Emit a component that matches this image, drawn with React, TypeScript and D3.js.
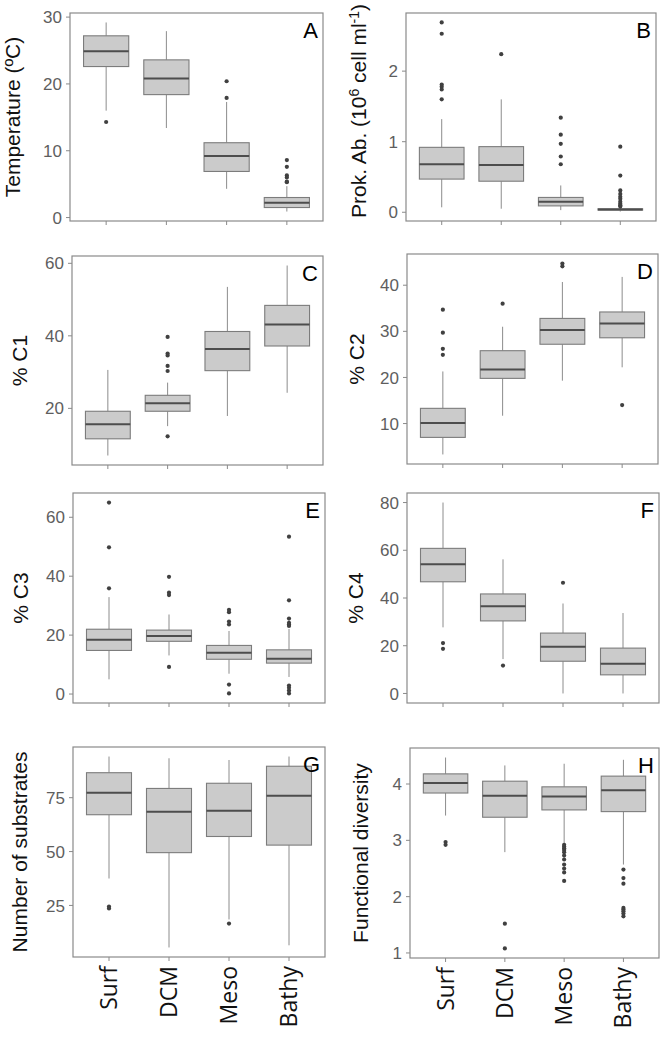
import React from 'react';
import * as d3 from 'd3';

const categories = ['Surf', 'DCM', 'Meso', 'Bathy'];

// Each box: [lower whisker, Q1, median, Q3, upper whisker]
const temperatureBoxes = [
  [16.0, 22.6, 24.9, 27.2, 29.2],
  [13.4, 18.4, 20.8, 23.6, 27.9],
  [4.3, 6.9, 9.2, 11.2, 17.3],
  [0.9, 1.5, 2.2, 3.0, 4.7],
];
const temperatureOutliers = [[14.3], [], [20.4, 17.9], [8.6, 7.6, 6.3, 6.0, 5.4, 5.3]];
const temperatureTicks = [0, 10, 20, 30];

const prokBoxes = [
  [0.07, 0.47, 0.68, 0.92, 1.32],
  [0.05, 0.44, 0.67, 0.93, 1.6],
  [0.03, 0.09, 0.15, 0.21, 0.38],
  [0.01, 0.03, 0.04, 0.05, 0.07],
];
const prokOutliers = [
  [2.69, 2.53, 1.81, 1.78, 1.74, 1.6],
  [2.24],
  [1.34, 1.1, 0.97, 0.79, 0.68],
  [0.93, 0.52, 0.31, 0.26, 0.22, 0.19, 0.15, 0.12, 0.1, 0.08],
];
const prokTicks = [0, 1, 2];

const c1Boxes = [
  [7.0, 11.6, 15.6, 19.2, 30.6],
  [15.1, 19.2, 21.4, 23.6, 27.1],
  [17.9, 30.4, 36.4, 41.2, 53.5],
  [24.3, 37.2, 43.1, 48.4, 59.4],
];
const c1Outliers = [[], [39.7, 35.1, 34.6, 31.7, 30.3, 12.3], [], []];
const c1Ticks = [20, 40, 60];

const c2Boxes = [
  [3.3, 7.0, 10.1, 13.3, 21.3],
  [11.7, 19.8, 21.7, 25.8, 31.0],
  [19.3, 27.2, 30.3, 32.8, 40.7],
  [22.2, 28.6, 31.7, 34.2, 41.8],
];
const c2Outliers = [[34.7, 29.7, 26.2, 24.9], [36.0], [44.7, 44.1], [14.0]];
const c2Ticks = [10, 20, 30, 40];

const c3Boxes = [
  [5.0, 14.8, 18.4, 22.0, 32.9],
  [13.1, 17.9, 19.7, 21.7, 27.0],
  [6.9, 11.8, 14.0, 16.5, 21.4],
  [5.8, 10.5, 12.0, 15.0, 22.1],
];
const c3Outliers = [
  [65.0, 49.8, 35.9],
  [39.8, 34.4, 33.6, 9.2],
  [28.6, 27.8, 24.6, 23.6, 3.2, 0.2],
  [53.4, 31.8, 25.6, 24.2, 23.6, 23.1, 2.9, 2.1, 1.2, 0.2],
];
const c3Ticks = [0, 20, 40, 60];

const c4Boxes = [
  [27.7, 46.8, 54.1, 60.8, 80.0],
  [14.4, 30.4, 36.5, 41.7, 56.2],
  [0.0, 13.5, 19.6, 25.3, 37.7],
  [0.0, 7.8, 12.4, 19.0, 33.7],
];
const c4Outliers = [[21.1, 18.7], [11.7], [46.4], []];
const c4Ticks = [0, 20, 40, 60, 80];

const substrateBoxes = [
  [37.5, 67.1, 77.3, 86.6, 94.1],
  [5.5, 49.5, 68.5, 79.3, 93.3],
  [18.5, 57.0, 68.9, 81.7, 92.5],
  [6.5, 53.0, 75.9, 89.6, 94.1],
];
const substrateOutliers = [[24.5, 23.6], [], [16.6], []];
const substrateTicks = [25, 50, 75];

const diversityBoxes = [
  [3.44, 3.84, 4.02, 4.18, 4.47],
  [2.79, 3.41, 3.79, 4.05, 4.33],
  [2.95, 3.54, 3.78, 3.95, 4.36],
  [2.57, 3.51, 3.89, 4.14, 4.43],
];
const diversityOutliers = [
  [2.97, 2.92],
  [1.52, 1.08],
  [2.92, 2.89, 2.86, 2.83, 2.79, 2.73, 2.66, 2.57, 2.5, 2.43, 2.28],
  [2.48, 2.33, 2.23, 1.8, 1.77, 1.74, 1.7, 1.65],
];
const diversityTicks = [1, 2, 3, 4];

const SANS = '"Liberation Sans", Arial, sans-serif';
const XFONT = '"Open Sans", "Noto Sans", sans-serif';

type Panel = {
  letter: string;
  boxes: number[][];
  outliers: number[][];
  ticks: number[];
  left: number;
  top: number;
  right: number;
  bottom: number;
  titleX: number;
  title: React.ReactNode;
  titleAnchor?: 'middle' | 'start';
  titleY?: number;
  xLabels?: boolean;
};

const panels: Panel[] = [
  { letter: 'A', boxes: temperatureBoxes, outliers: temperatureOutliers, ticks: temperatureTicks,
    left: 70, top: 13, right: 323, bottom: 221, titleX: 20, title: 'Temperature (ºC)' },
  { letter: 'B', boxes: prokBoxes, outliers: prokOutliers, ticks: prokTicks,
    left: 406, top: 13, right: 656, bottom: 221, titleX: 366, titleAnchor: 'start', titleY: 218,
    title: (
      <>
        {'Prok. Ab. (10'}
        <tspan dy={-7} fontSize={14}>6</tspan>
        <tspan dy={7}>{' cell ml'}</tspan>
        <tspan dy={-7} fontSize={14}>-1</tspan>
        <tspan dy={7}>)</tspan>
      </>
    ) },
  { letter: 'C', boxes: c1Boxes, outliers: c1Outliers, ticks: c1Ticks,
    left: 72, top: 256, right: 323, bottom: 465, titleX: 27, title: '% C1' },
  { letter: 'D', boxes: c2Boxes, outliers: c2Outliers, ticks: c2Ticks,
    left: 407, top: 254, right: 658, bottom: 464, titleX: 364, title: '% C2' },
  { letter: 'E', boxes: c3Boxes, outliers: c3Outliers, ticks: c3Ticks,
    left: 73, top: 493, right: 325, bottom: 703, titleX: 28, title: '% C3' },
  { letter: 'F', boxes: c4Boxes, outliers: c4Outliers, ticks: c4Ticks,
    left: 407, top: 493, right: 659, bottom: 703, titleX: 363, title: '% C4' },
  { letter: 'G', boxes: substrateBoxes, outliers: substrateOutliers, ticks: substrateTicks,
    left: 73, top: 747, right: 325, bottom: 957, titleX: 27, title: 'Number of substrates', xLabels: true },
  { letter: 'H', boxes: diversityBoxes, outliers: diversityOutliers, ticks: diversityTicks,
    left: 410, top: 748, right: 659, bottom: 958, titleX: 368, title: 'Functional diversity', xLabels: true },
];

function BoxPanel({ p }: { p: Panel }) {
  const all = [...p.boxes.flat(), ...p.outliers.flat()];
  const [mn, mx] = d3.extent(all) as [number, number];
  const pad = (mx - mn) * 0.05;
  const y = d3.scaleLinear().domain([mn - pad, mx + pad]).range([p.bottom, p.top]);
  const x = d3.scalePoint<string>().domain(categories).range([p.left, p.right]).padding(0.6);
  const bw = x.step() * 0.75;
  const midY = (p.top + p.bottom) / 2;
  const frame = '#8a8a8a';
  return (
    <g>
      {categories.map((c, i) => {
        const [lo, q1, med, q3, hi] = p.boxes[i];
        const cx = x(c)!;
        return (
          <g key={c}>
            <line x1={cx} x2={cx} y1={y(hi)} y2={y(q3)} stroke="#8c8c8c" strokeWidth={1} />
            <line x1={cx} x2={cx} y1={y(q1)} y2={y(lo)} stroke="#8c8c8c" strokeWidth={1} />
            <rect x={cx - bw / 2} y={y(q3)} width={bw} height={Math.max(0.5, y(q1) - y(q3))}
              fill="#cbcbcb" stroke="#7c7c7c" strokeWidth={1.1} />
            <line x1={cx - bw / 2} x2={cx + bw / 2} y1={y(med)} y2={y(med)} stroke="#4d4d4d" strokeWidth={2} />
            {p.outliers[i].map((v, j) => (
              <circle key={j} cx={cx} cy={y(v)} r={2.1} fill="#404040" />
            ))}
          </g>
        );
      })}
      <rect x={p.left} y={p.top} width={p.right - p.left} height={p.bottom - p.top}
        fill="none" stroke={frame} strokeWidth={1.2} />
      {p.ticks.map((t) => (
        <g key={t}>
          <line x1={p.left - 4} x2={p.left} y1={y(t)} y2={y(t)} stroke={frame} strokeWidth={1} />
          <text x={p.left - 8} y={y(t)} dy="0.36em" textAnchor="end" fontSize={17}
            fontFamily={SANS} fill="#5e5e5e">{t}</text>
        </g>
      ))}
      {categories.map((c) => (
        <line key={c} x1={x(c)!} x2={x(c)!} y1={p.bottom} y2={p.bottom + 4} stroke={frame} strokeWidth={1} />
      ))}
      {p.xLabels && categories.map((c) => (
        <text key={c} transform={`translate(${x(c)! + 8},${p.bottom + 9}) rotate(-90)`}
          textAnchor="end" fontSize={23} fontFamily={XFONT} fill="#111">{c}</text>
      ))}
      <text x={p.right - 5} y={p.top + 25} textAnchor="end" fontSize={22} fontFamily={SANS} fill="#000">
        {p.letter}
      </text>
      <text transform={`translate(${p.titleX},${p.titleY ?? midY}) rotate(-90)`}
        textAnchor={p.titleAnchor ?? 'middle'} fontSize={21} fontFamily={SANS} fill="#111">
        {p.title}
      </text>
    </g>
  );
}

export default function App() {
  return (
    <svg width={666} height={1040} style={{ position: 'absolute', left: 0, top: 0, background: '#fff' }}>
      <rect width={666} height={1040} fill="#fff" />
      {panels.map((p) => (
        <BoxPanel key={p.letter} p={p} />
      ))}
    </svg>
  );
}
